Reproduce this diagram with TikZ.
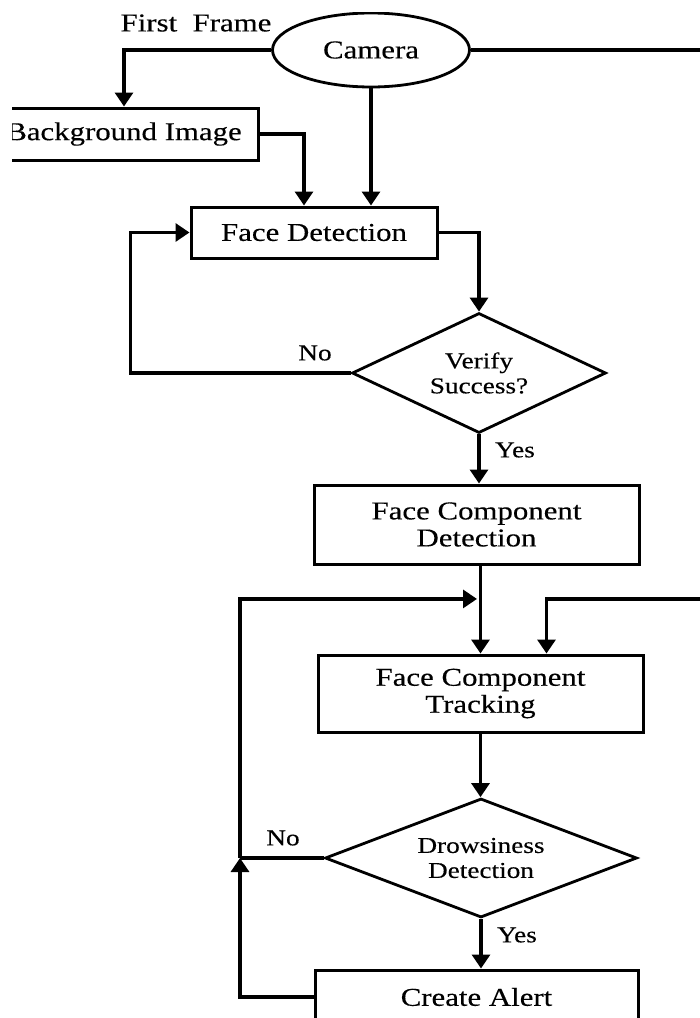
\documentclass[tikz,border=0pt]{standalone}
\usepackage{fontspec}
\setmainfont{Liberation Serif}[FakeStretch=1.2,FakeBold=0.3]
\usetikzlibrary{shapes.geometric,arrows.meta,calc}
\begin{document}
\begin{tikzpicture}[x=1pt,y=-1pt,
  box/.style={draw,line width=3pt,rectangle,inner sep=0pt,align=center,
              font=\fontsize{25.7}{27}\selectfont},
  decision/.style={draw,line width=2.8pt,diamond,inner sep=0pt,align=center,
              font=\fontsize{22.7}{25}\selectfont},
  lbl/.style={inner sep=0pt,font=\fontsize{22.7}{25}\selectfont},
  flow/.style={line width=3.2pt},
  arr/.style={flow,-{Triangle[width=18pt,length=14pt]}}]
\useasboundingbox (0,0) rectangle (700,1018);
\clip (12,12) rectangle (700,1018);

% nodes
\node[ellipse,draw,line width=2.8pt,minimum width=197pt,minimum height=74pt,
      inner sep=0pt,font=\fontsize{25.7}{27}\selectfont] (cam) at (371,50) {Camera};
\node[lbl,font=\fontsize{25.7}{27}\selectfont] (ff) at (196,23) {First~~Frame};
\node[box,minimum width=268pt,minimum height=52pt] (bg) at (124,134) {Background Image};
\node[box,minimum width=246pt,minimum height=51pt] (fd) at (314,232.5) {Face Detection};
\node[decision,aspect=2.12,minimum width=254pt,minimum height=120pt] (ver) at (479,373) {Verify\\Success?};
\node[box,minimum width=325pt,minimum height=79pt] (fcd) at (476.5,524.5) {Face Component\\Detection};
\node[box,minimum width=325pt,minimum height=77pt] (fct) at (480.5,693.5) {Face Component\\Tracking};
\node[decision,aspect=2.62,minimum width=312pt,minimum height=119pt] (dro) at (481,858) {Drowsiness\\Detection};
\node[box,minimum width=323pt,minimum height=54pt] (alert) at (476.5,997) {Create Alert};

% labels
\node[lbl] (no1) at (315,353) {No};
\node[lbl] (yes1) at (515,450) {Yes};
\node[lbl] (no2) at (283,838) {No};
\node[lbl] (yes2) at (517,935) {Yes};

% junction points on the loops
\coordinate (j1) at (240,858);
\coordinate (j2) at ($(fct.north |- fcd.south)!0.38!(fct.north) + (-3.5,0)$);

% connectors
\draw[arr] (cam.west) -| (bg.north);
\draw[arr] (cam.south) -- (cam.south |- fd.north);
\draw[arr] (bg.east) -| ([xshift=-10pt]fd.north);
\draw[arr] (fd.east) -| (ver.north);
\draw[arr] (ver.west) -- ++(-220,0) |- (fd.west);
\draw[arr] (ver.south) -- (ver.south |- fcd.north);
\draw[arr] (fct.north |- fcd.south) -- (fct.north);
\draw[arr] (cam.east) -- ++(260,0) |- ([xshift=66pt]fct.north |- j2) -- ([xshift=66pt]fct.north);
\draw[arr] (fct.south) -- (fct.south |- dro.north);
\draw[arr] (dro.south) -- (dro.south |- alert.north);
\draw[flow] (dro.west) -- (j1);
\draw[arr] (alert.west) -| (j1);
\draw[arr] (j1) |- (j2);
\end{tikzpicture}
\end{document}
